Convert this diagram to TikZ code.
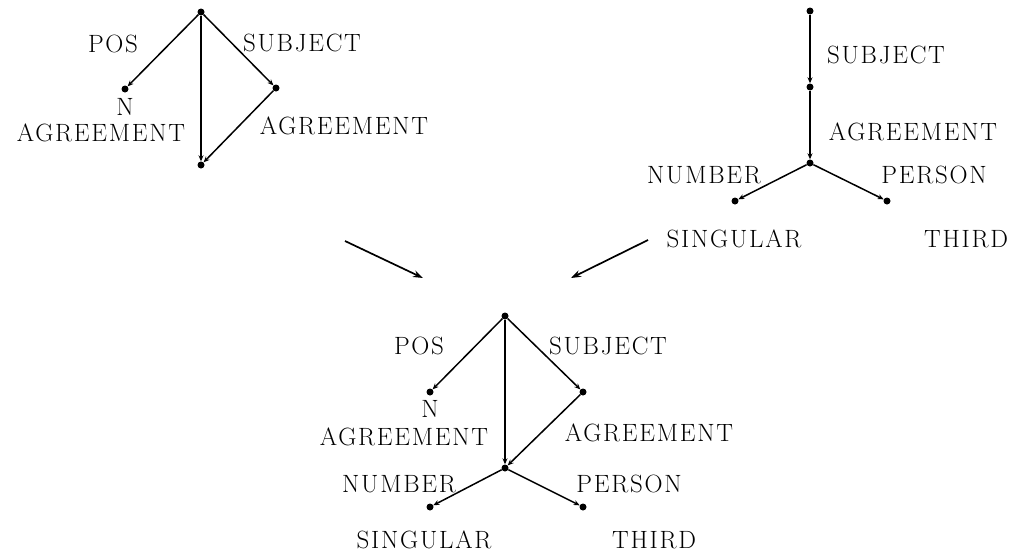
\documentclass[tikz,border=0pt]{standalone}
\usepackage{fontspec}
\setmainfont{Latin Modern Roman}[LetterSpace=7]
\usetikzlibrary{arrows.meta}
\begin{document}
\begin{tikzpicture}[x=1pt,y=-1pt,
  dotnode/.style={circle,fill=black,inner sep=0pt,minimum size=7pt},
  lbl/.style={inner sep=0pt,font=\fontsize{25}{30}\selectfont},
  edge/.style={line width=1.5pt,-{Stealth[length=6pt,width=5pt]}},
  bigarrow/.style={line width=1.7pt,-{Stealth[length=10pt,width=7pt]}}]
\useasboundingbox (0,0) rectangle (1013,560);
% top-left graph
\node[dotnode] (a0) at (201,12) {};
\node[dotnode] (a1) at (125,89) {};
\node[dotnode] (a2) at (276,88) {};
\node[dotnode] (a3) at (201,165) {};
\draw[edge] (a0) -- (a1);
\draw[edge] (a0) -- (a2);
\draw[edge] (a0) -- (a3);
\draw[edge] (a2) -- (a3);
\node[lbl] (aPOS) at (113,44) {POS};
\node[lbl] (aSUB) at (302,43) {SUBJECT};
\node[lbl] (aN) at (125,107) {N};
\node[lbl] (aAGL) at (101,133) {AGREEMENT};
\node[lbl] (aAGR) at (344,126) {AGREEMENT};
% top-right graph
\node[dotnode] (b0) at (810,11) {};
\node[dotnode] (b1) at (810,87) {};
\node[dotnode] (b2) at (810,163) {};
\node[dotnode] (b3) at (735,201) {};
\node[dotnode] (b4) at (887,201) {};
\draw[edge] (b0) -- (b1);
\draw[edge] (b1) -- (b2);
\draw[edge] (b2) -- (b3);
\draw[edge] (b2) -- (b4);
\node[lbl] (bSUB) at (886,55) {SUBJECT};
\node[lbl] (bAG) at (913,132) {AGREEMENT};
\node[lbl] (bNUM) at (704,175) {NUMBER};
\node[lbl] (bPER) at (934,175) {PERSON};
\node[lbl] (bSING) at (734,239) {SINGULAR};
\node[lbl] (bTHI) at (966,239) {THIRD};
% middle arrows
\coordinate (m1s) at (345,241);
\coordinate (m1e) at (423,278);
\coordinate (m2s) at (648,240);
\coordinate (m2e) at (571,278);
\draw[bigarrow] (m1s) -- (m1e);
\draw[bigarrow] (m2s) -- (m2e);
% bottom graph
\node[dotnode] (c0) at (505,316) {};
\node[dotnode] (c1) at (430,392) {};
\node[dotnode] (c2) at (583,392) {};
\node[dotnode] (c3) at (505,468) {};
\node[dotnode] (c4) at (430,507) {};
\node[dotnode] (c5) at (583,507) {};
\draw[edge] (c0) -- (c1);
\draw[edge] (c0) -- (c2);
\draw[edge] (c0) -- (c3);
\draw[edge] (c2) -- (c3);
\draw[edge] (c3) -- (c4);
\draw[edge] (c3) -- (c5);
\node[lbl] (cPOS) at (419,346) {POS};
\node[lbl] (cSUB) at (608,346) {SUBJECT};
\node[lbl] (cN) at (430,409) {N};
\node[lbl] (cAGL) at (404,437) {AGREEMENT};
\node[lbl] (cAGR) at (649,433) {AGREEMENT};
\node[lbl] (cNUM) at (399,484) {NUMBER};
\node[lbl] (cPER) at (629,484) {PERSON};
\node[lbl] (cSING) at (424,540) {SINGULAR};
\node[lbl] (cTHI) at (654,540) {THIRD};
\end{tikzpicture}
\end{document}
